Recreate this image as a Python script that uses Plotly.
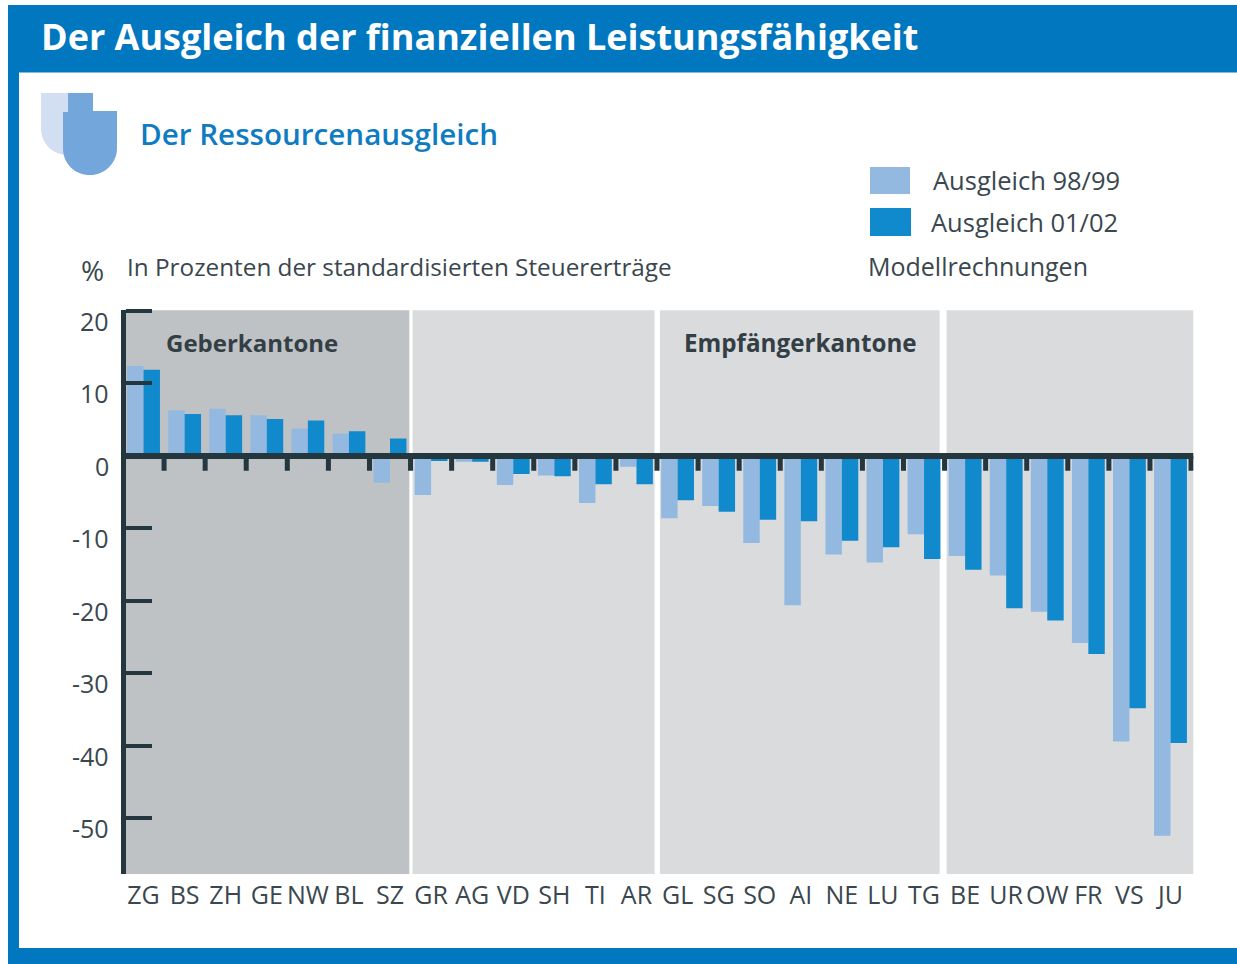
import plotly.graph_objects as go

cantons = ["ZG","BS","ZH","GE","NW","BL","SZ","GR","AG","VD","SH","TI","AR",
           "GL","SG","SO","AI","NE","LU","TG","BE","UR","OW","FR","VS","JU"]
ausgleich_9899 = [12.4,6.3,6.5,5.6,3.8,3.1,-3.7,-5.4,-0.8,-4.0,-2.7,-6.5,-1.5,
                  -8.6,-6.9,-12.0,-20.6,-13.6,-14.7,-10.8,-13.8,-16.5,-21.5,-25.8,-39.4,-52.4]
ausgleich_0102 = [11.9,5.8,5.6,5.1,4.9,3.4,2.4,-0.7,-0.8,-2.5,-2.8,-3.9,-3.9,
                  -6.1,-7.7,-8.8,-9.0,-11.7,-12.6,-14.2,-15.7,-21.0,-22.7,-27.3,-34.8,-39.6]
y_ticks = [20,10,0,-10,-20,-30,-40,-50]
series_names = ["Ausgleich 98/99","Ausgleich 01/02"]

W, H = 1237, 964
BLUE="#0077BF"; LIGHT="#93B9E1"; DARK="#1189CD"; INK="#24363E"; TXT="#3A474E"
SANS="Open Sans"
px=lambda x:x/W
py=lambda y:1-y/H

fig=go.Figure()
fig.add_bar(x=cantons,y=ausgleich_9899,name=series_names[0],marker=dict(color=LIGHT,line_width=0))
fig.add_bar(x=cantons,y=ausgleich_0102,name=series_names[1],marker=dict(color=DARK,line_width=0))

shapes=[]
def rect_px(x0,y0,x1,y1,color,layer="below"):
    shapes.append(dict(type="rect",xref="paper",yref="paper",x0=px(x0),x1=px(x1),y0=py(y1),y1=py(y0),
                       fillcolor=color,line_width=0,layer=layer))
def path_px(points,color):
    parts=[]
    for cmd,*c in points:
        coords=" ".join(f"{px(c[i]):.5f},{py(c[i+1]):.5f}" for i in range(0,len(c),2))
        parts.append(f"{cmd} {coords}")
    shapes.append(dict(type="path",xref="paper",yref="paper",path=" ".join(parts)+" Z",
                       fillcolor=color,line_width=0,layer="below"))
# frame
rect_px(8,5,W,72.5,BLUE); rect_px(8,5,19,H,BLUE); rect_px(8,948,W,H,BLUE)
# logo
path_px([("M",41,93),("L",90,93),("L",90,128),("C",90,145,80,155,68,155),("C",54,155,41,145,41,128)],"#D2DEF1")
path_px([("M",68,93),("L",93,93),("L",93,111),("L",117,111),("L",117,148),
         ("C",117,164,104,175,90,175),("C",75,175,63,164,63,148),("L",63,112),("L",68,112)],"#73A6DA")
# legend swatches
rect_px(870,167,910,194,LIGHT); rect_px(870,208,911,236,DARK)
# group backgrounds, in category units
for a,b,c in [(-0.5,6.47,"#BEC2C5"),(6.55,12.44,"#D9DBDD"),(12.57,19.38,"#D9DBDD"),(19.55,25.56,"#D9DBDD")]:
    shapes.append(dict(type="rect",xref="x",yref="y",x0=a,x1=b,y0=-57.66,y1=20.1,fillcolor=c,line_width=0,layer="below"))
# x ticks between categories and zero line
for i in range(len(cantons)):
    shapes.append(dict(type="line",xref="x",yref="y",x0=i+0.5,x1=i+0.5,y0=0,y1=-2.05,line=dict(color=INK,width=5),layer="above"))
shapes.append(dict(type="line",xref="x",yref="y",x0=-0.5,x1=25.56,y0=0,y1=0,line=dict(color=INK,width=6),layer="above"))

ann=[]
def text_px(x,y,s,size,color=TXT,weight=400):
    ann.append(dict(xref="paper",yref="paper",x=px(x-2.5),y=py(y),text=s,showarrow=False,
                    xanchor="left",yanchor="middle",align="left",
                    font=dict(family=SANS,size=size,color=color,weight=weight)))
text_px(41,37,"Der Ausgleich der finanziellen Leistungsfähigkeit",36,"#FFFFFF",700)
text_px(140,133.5,"Der Ressourcenausgleich",29.6,"#0F7CC2",600)
text_px(933,180,series_names[0],25.5)
text_px(931,222,series_names[1],25.5)
text_px(82,270,"%",28)
text_px(127,266.5,"In Prozenten der standardisierten Steuererträge",24.3)
text_px(869,266,"Modellrechnungen",25)
text_px(166,342,"Geberkantone",24,"#333F45",700)
text_px(684,342,"Empfängerkantone",24.2,"#333F45",700)
for v in y_ticks:
    ann.append(dict(xref="paper",yref="y",x=px(111),y=v,yshift=-10,text=str(v),showarrow=False,
                    xanchor="right",yanchor="middle",font=dict(family=SANS,size=25,color=TXT)))

fig.update_layout(width=W,height=H,margin=dict(l=0,r=0,t=0,b=0,pad=0),autosize=False,
    paper_bgcolor="white",plot_bgcolor="rgba(0,0,0,0)",showlegend=False,
    barmode="group",bargap=0.2,bargroupgap=0,shapes=shapes,annotations=ann,
    font=dict(family=SANS,color=TXT,size=25),
    xaxis=dict(domain=[px(123),px(1193.5)],range=[-0.5,25.56],type="category",categoryorder="array",categoryarray=cantons,
               showgrid=False,zeroline=False,showline=False,ticks="",ticklabelstandoff=4,
               tickfont=dict(family=SANS,size=25,color=TXT),tickangle=0),
    yaxis=dict(domain=[py(874),py(309.5)],range=[-57.66,20.2],tickvals=y_ticks,ticktext=[""]*len(y_ticks),
               anchor="free",position=px(123),
               showgrid=False,zeroline=False,showline=True,linewidth=5,linecolor=INK,
               ticks="inside",ticklen=25.5,tickwidth=4,tickcolor=INK))
fig.write_html("out.html",post_script="document.body.style.margin='0';",config=dict(displayModeBar=False))
